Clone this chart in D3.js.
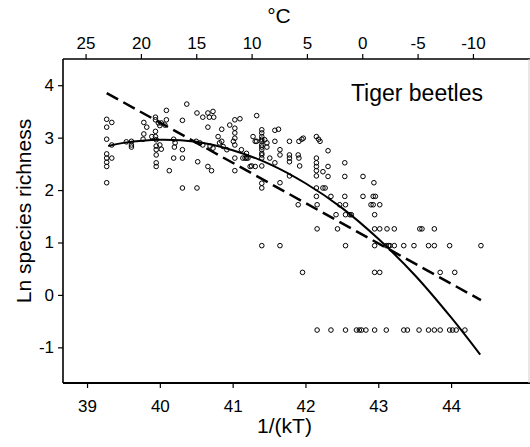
<!DOCTYPE html>
<html><head><meta charset="utf-8">
<script src="https://cdn.jsdelivr.net/npm/d3@7"></script>
<style>
body{margin:0;background:#fff}
svg{display:block}
text{font-family:"Liberation Sans",Arial,Helvetica,sans-serif;fill:#000}
</style>
</head><body>
<svg id="c" width="530" height="447"></svg>
<script>
// Observations: [1/(kT), ln species richness]
const points = [
[39.27,3.35],[39.34,3.29],[39.27,3.20],[39.27,2.97],[39.34,2.86],[39.27,2.69],[39.34,2.61],[39.27,2.61],
[39.27,2.53],[39.27,2.45],[39.27,2.14],[39.54,2.92],[39.61,2.93],[39.61,2.86],[39.61,2.82],[39.78,3.29],
[39.82,3.20],[39.78,3.07],[39.89,3.02],[39.77,2.97],[39.94,3.39],[39.94,3.34],[39.98,3.28],[40.00,3.23],
[40.02,3.28],[40.07,3.24],[40.09,3.52],[40.09,3.34],[39.94,3.12],[39.94,3.02],[39.95,2.96],[40.00,2.86],
[39.95,2.84],[39.95,2.77],[39.95,2.67],[40.02,2.78],[39.95,2.52],[39.95,2.45],[40.13,2.37],[40.19,2.97],
[40.21,2.90],[40.20,2.82],[40.19,2.61],[40.31,3.33],[40.37,3.64],[40.31,2.77],[40.31,2.61],[40.31,2.04],
[40.51,3.47],[40.59,3.39],[40.66,3.47],[40.68,3.39],[40.73,3.50],[40.74,3.39],[40.66,3.20],[40.50,2.93],
[40.55,2.90],[40.59,2.86],[40.52,2.54],[40.66,2.45],[40.71,2.37],[40.51,2.04],[40.69,2.84],[40.73,2.80],
[40.85,3.16],[40.80,3.02],[40.85,2.93],[40.82,2.90],[40.87,2.83],[40.92,2.77],[40.96,3.24],[41.03,3.34],
[41.10,3.36],[41.03,3.18],[41.03,3.09],[41.03,2.99],[41.01,2.93],[41.03,2.86],[41.12,2.77],[41.03,2.61],
[41.03,2.37],[41.14,2.61],[41.17,2.61],[41.19,2.61],[41.21,2.61],[41.19,2.70],[41.28,3.02],[41.31,2.93],
[41.24,2.45],[41.31,2.45],[41.33,3.42],
[41.40,3.15],[41.40,3.09],[41.40,3.02],[41.40,2.97],[41.40,2.93],[41.40,2.86],[41.40,2.82],[41.40,2.77],
[41.40,2.70],[41.40,2.67],[41.40,2.61],
[41.33,2.93],[41.44,2.96],[41.47,2.90],[41.47,2.82],[41.58,3.14],[41.63,3.16],[41.58,2.93],[41.65,2.77],
[41.65,2.67],[41.51,2.61],[41.26,2.46],[41.40,2.46],[41.58,2.52],[41.40,2.13],[41.40,2.04],[41.65,2.14],
[41.78,2.93],[41.78,2.67],[41.78,2.61],[41.78,2.54],[41.78,2.27],[41.91,2.93],[41.95,2.97],[41.97,2.99],
[41.90,2.67],[41.91,2.61],[41.92,2.46],[42.15,3.02],[42.18,2.97],[42.20,2.93],[42.15,2.61],[42.15,2.52],
[42.15,2.45],[42.15,2.37],[42.15,2.27],[42.31,2.75],[42.24,2.35],[42.31,2.45],[42.31,2.26],[42.15,2.04],
[42.24,2.04],[42.27,2.04],[42.15,1.88],[42.35,1.88],[42.54,2.52],[42.54,2.26],[42.54,1.88],[42.79,2.26],
[42.79,1.88],[42.93,1.88],[42.96,1.88],[42.94,2.14],
[41.90,1.72],[42.16,1.72],[42.47,1.72],[42.55,1.72],[42.90,1.72],[42.93,1.72],[43.02,1.72],
[42.42,1.53],[42.55,1.53],[42.61,1.53],[42.63,1.53],[42.95,1.53],
[42.16,1.26],[42.44,1.26],[42.95,1.26],[43.02,1.26],[43.12,1.26],[43.22,1.26],[43.57,1.26],[43.60,1.26],[43.77,1.26],
[41.40,0.94],[41.65,0.94],[42.55,0.94],[42.95,0.94],[43.11,0.94],[43.14,0.94],[43.16,0.94],[43.22,0.94],
[43.35,0.94],[43.49,0.94],[43.69,0.94],[43.77,0.94],[43.98,0.94],[44.41,0.94],
[41.96,0.43],[42.95,0.43],[43.02,0.43],[43.85,0.43],[44.05,0.43],
[42.16,-0.67],[42.35,-0.67],[42.55,-0.67],[42.70,-0.67],[42.74,-0.67],[42.77,-0.67],[42.83,-0.67],[42.95,-0.67],
[43.11,-0.67],[43.35,-0.67],[43.40,-0.67],[43.56,-0.67],[43.69,-0.67],[43.77,-0.67],[43.85,-0.67],[43.98,-0.67],
[44.02,-0.67],[44.07,-0.67],[44.19,-0.67]
];
// Curvilinear fit (solid)
const solidFit = [[39.29,2.84],[39.5,2.90],[40.0,2.96],[40.5,2.92],[41.0,2.76],[41.5,2.50],[42.0,2.13],
  [42.5,1.66],[43.0,1.07],[43.5,0.38],[44.0,-0.43],[44.4,-1.14]];
// Linear fit (dashed)
const dashedFit = [[39.27,3.85],[44.41,-0.10]];

const bottomTicks = [39,40,41,42,43,44];
const leftTicks = [-1,0,1,2,3,4];
const topTicks = [25,20,15,10,5,0,-5,-10];
const celsiusEnds = [25,-10];
const celsiusAtInvKT = [38.98,44.30];

const svg = d3.select("#c");
const x = d3.scaleLinear().domain([38.67,45.07]).range([63,529]);
const y = d3.scaleLinear().domain([-1.68,4.5]).range([383,59]);
const xc = d3.scaleLinear().domain(celsiusEnds).range(celsiusAtInvKT.map(x));

const fmt = d => String(d);

const gB = svg.append("g").attr("transform","translate(0,383)")
  .call(d3.axisBottom(x).tickValues(bottomTicks).tickSize(5).tickSizeOuter(0).tickPadding(12).tickFormat(fmt));
const gL = svg.append("g").attr("transform","translate(63,0)")
  .call(d3.axisLeft(y).tickValues(leftTicks).tickSize(5).tickSizeOuter(0).tickPadding(4).tickFormat(fmt));
const gT = svg.append("g").attr("transform","translate(0,59)")
  .call(d3.axisTop(xc).tickValues(topTicks).tickSize(5).tickSizeOuter(0).tickPadding(5).tickFormat(fmt));
[gB,gL,gT].forEach(g=>{
  g.select(".domain").remove();
  g.selectAll("text").style("font-size","17px").attr("font-family",null).attr("fill","#000");
  g.selectAll("line").attr("stroke","#000").attr("stroke-width",1.2);
  g.attr("font-family",null).attr("font-size",null);
});

// frame
const [x0,x1] = x.range(), [yb,yt] = y.range();
svg.append("line").attr("x1",x0).attr("x2",x0).attr("y1",yt).attr("y2",yb).attr("stroke","#000").attr("stroke-width",1.6);
svg.append("line").attr("x1",x0).attr("x2",x1+1).attr("y1",yt).attr("y2",yt).attr("stroke","#000").attr("stroke-width",1.4);
svg.append("line").attr("x1",x0).attr("x2",x1+1).attr("y1",yb).attr("y2",yb).attr("stroke","#000").attr("stroke-width",1.8);
svg.append("line").attr("x1",x1).attr("x2",x1).attr("y1",yt).attr("y2",yb).attr("stroke","#d0d0d0").attr("stroke-width",1);

// points
svg.append("g").selectAll("circle").data(points).join("circle")
  .attr("cx",d=>x(d[0])).attr("cy",d=>y(d[1])).attr("r",2.3)
  .attr("fill","none").attr("stroke","#000").attr("stroke-width",1);

// fits
svg.append("path").datum(solidFit)
  .attr("d",d3.line().x(d=>x(d[0])).y(d=>y(d[1])).curve(d3.curveCatmullRom))
  .attr("fill","none").attr("stroke","#000").attr("stroke-width",2);
svg.append("path").datum(dashedFit)
  .attr("d",d3.line().x(d=>x(d[0])).y(d=>y(d[1])))
  .attr("fill","none").attr("stroke","#000").attr("stroke-width",2.5).attr("stroke-dasharray","13,6");

// titles
svg.append("text").attr("x",279).attr("y",22.5).attr("text-anchor","middle").style("font-size","21px").text("°C");
svg.append("text").attr("x",284.5).attr("y",433).attr("text-anchor","middle").style("font-size","21px").text("1/(kT)");
svg.append("text").attr("transform","translate(31,211) rotate(-90)").attr("text-anchor","middle").style("font-size","21px").text("Ln species richness");
svg.append("text").attr("x",483).attr("y",101).attr("text-anchor","end").style("font-size","23px").text("Tiger beetles");
</script>
</body></html>
